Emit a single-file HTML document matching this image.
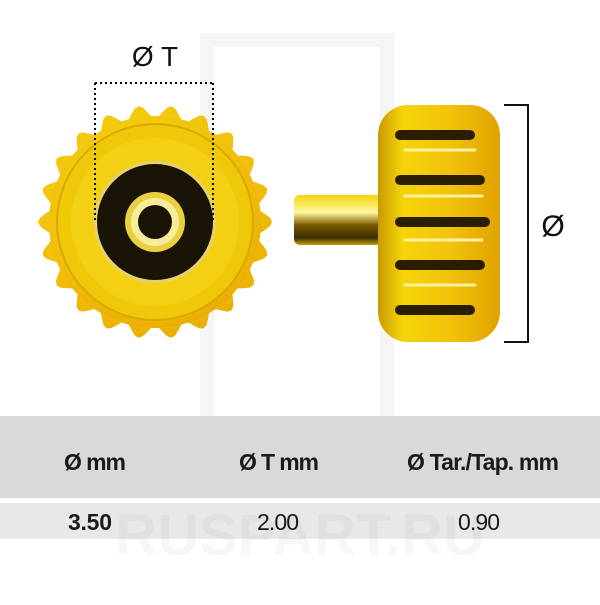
<!DOCTYPE html>
<html><head><style>
body{margin:0;background:#fff;width:600px;height:600px;overflow:hidden;font-family:"Liberation Sans",sans-serif}
</style></head><body>
<svg width="600" height="600" viewBox="0 0 600 600" xmlns="http://www.w3.org/2000/svg">
<defs>
<radialGradient id="g1" cx="0.45" cy="0.4" r="0.65">
<stop offset="0" stop-color="#f7e41a"/><stop offset="0.7" stop-color="#f2c20c"/><stop offset="1" stop-color="#e8a800"/>
</radialGradient>
<linearGradient id="stem" x1="0" y1="0" x2="0" y2="1">
<stop offset="0" stop-color="#f5d40a"/><stop offset="0.35" stop-color="#fff8a0"/><stop offset="0.6" stop-color="#7a5a00"/><stop offset="0.85" stop-color="#3a2a00"/><stop offset="1" stop-color="#c9a000"/>
</linearGradient>
<linearGradient id="head" x1="0" y1="0" x2="1" y2="0">
<stop offset="0" stop-color="#c99a00"/><stop offset="0.2" stop-color="#f5d40a"/><stop offset="0.6" stop-color="#f2c20c"/><stop offset="1" stop-color="#e0a200"/>
</linearGradient>
</defs>
<g fill="none" stroke="#f5f5f5" stroke-width="14">
<rect x="207" y="40" width="180" height="400"/>
</g>
<g transform="translate(155,222)">
<path id="gear" fill="url(#g1)" d="" />
</g>
<g transform="translate(155,222)">
<circle r="106" fill="url(#g1)"/>
<circle r="98" fill="#f0c80a" stroke="#d9a800" stroke-width="2"/>
<circle r="84" fill="#f3d014"/>
<circle r="61" fill="#e7d070"/>
<circle r="58" fill="#1a1406"/>
<circle r="30" fill="#e8d040"/>
<circle r="24" fill="#f7ec9a"/>
<circle r="17" fill="#1a1406"/>
</g>
<g stroke="#000" stroke-width="2" stroke-dasharray="2,3" fill="none">
<path d="M95 83 H213 M95 83 V222 M213 83 V222"/>
</g>
<text x="155" y="66" font-size="28" text-anchor="middle" fill="#111">Ø T</text>
<rect x="294" y="195" width="96" height="50" rx="6" fill="url(#stem)"/>
<rect x="378" y="105" width="122" height="237" rx="30" fill="url(#head)"/>
<g stroke="#2a1e00" stroke-width="10" stroke-linecap="round">
<path d="M400 135 H470 M400 180 H480 M400 222 H485 M400 265 H480 M400 310 H470"/>
</g>
<g stroke="#fff3a0" stroke-width="3" stroke-linecap="round">
<path d="M405 150 H475 M405 196 H482 M405 240 H482 M405 285 H475"/>
</g>
<path d="M504 105 H528 V342 H504" stroke="#111" stroke-width="2" fill="none"/>
<text x="553" y="236" font-size="30" text-anchor="middle" fill="#111">Ø</text>
<rect x="0" y="416" width="600" height="82" fill="#d9d9d9"/>
<rect x="0" y="503" width="600" height="36" fill="#e8e8e8"/>
<g font-family="Liberation Sans Narrow, Liberation Sans, sans-serif" font-weight="bold" font-size="23" fill="#1a1a1a" text-anchor="middle">
<text x="95" y="470" textLength="62">Ø mm</text>
<text x="279" y="470" textLength="80">Ø T mm</text>
<text x="483" y="470" textLength="152">Ø Tar./Tap. mm</text>
<text x="90" y="530" textLength="44">3.50</text>
</g>
<g font-family="Liberation Sans Narrow, Liberation Sans, sans-serif" font-size="23" fill="#1a1a1a" text-anchor="middle">
<text x="278" y="530" textLength="42">2.00</text>
<text x="479" y="530" textLength="42">0.90</text>
</g>
<text x="300" y="555" font-size="58" font-weight="bold" fill="#000" fill-opacity="0.03" text-anchor="middle">RUSPART.RU</text>
<script>
var p="",n=22,ro=117,ri=104;
for(var i=0;i<=n*8;i++){var a=i/(n*8)*2*Math.PI;var r=(ro+ri)/2+(ro-ri)/2*Math.cos(a*n);p+=(i?"L":"M")+(r*Math.cos(a)).toFixed(1)+" "+(r*Math.sin(a)).toFixed(1);}
document.getElementById("gear").setAttribute("d",p+"Z");
</script>
</svg>
</body></html>
